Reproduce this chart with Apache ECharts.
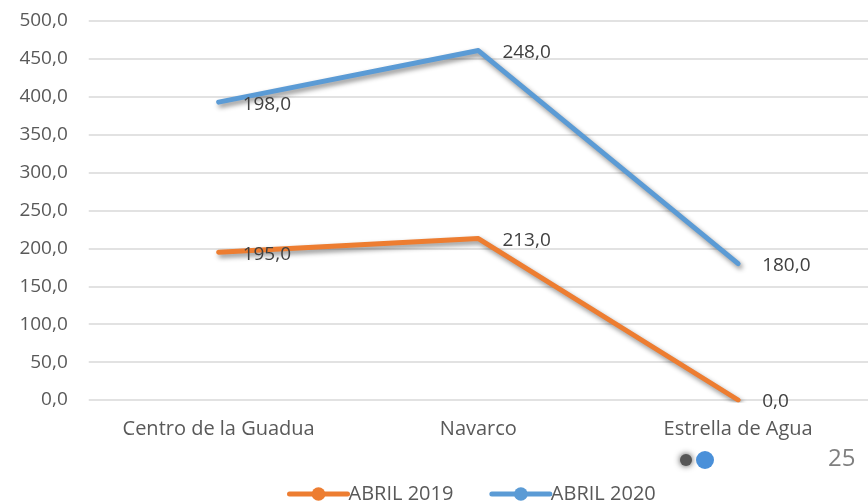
<!DOCTYPE html>
<html><head><meta charset="utf-8">
<script src="https://cdn.jsdelivr.net/npm/echarts@6/dist/echarts.min.js"></script>
<style>html,body{margin:0;padding:0;background:#fff}#c{width:868px;height:502px}</style>
</head><body><div id="c"></div>
<script>
const categories = ['Centro de la Guadua', 'Navarco', 'Estrella de Agua'];
const seriesNames = ['ABRIL 2019', 'ABRIL 2020'];
const abril2019 = [195, 213, 0];
const abril2020 = [198, 248, 180];
const yTicks = {min: 0, max: 500, interval: 50};

const font = '"Open Sans", sans-serif';
const fmt = v => Number(v).toFixed(1).replace('.', ',');
const shadow = {shadowColor: 'rgba(0,0,0,0.45)', shadowBlur: 5, shadowOffsetX: 2, shadowOffsetY: 3};
const chart = echarts.init(document.getElementById('c'));
function mk(name, data, color) {
  return {
    name, type: 'line', stack: 'total', data, color,
    symbol: 'circle', symbolSize: 0.01, showSymbol: true,
    lineStyle: Object.assign({width: 5, color, cap: 'round', join: 'round'}, shadow),
    itemStyle: {color},
    label: {show: true, position: 'right', distance: 24, offset: [0, 2], formatter: p => fmt(p.value),
      color: '#404040', fontSize: 19, fontFamily: font},
    emphasis: {disabled: true}, z: name === seriesNames[0] ? 3 : 2
  };
}
chart.setOption({
  animation: false,
  grid: {left: 88.75, right: -8.25, top: 21, bottom: 102, containLabel: false},
  xAxis: {type: 'category', data: categories, boundaryGap: true,
    axisLine: {show: false}, axisTick: {show: false},
    axisLabel: {color: '#595959', fontSize: 20, fontFamily: font, margin: 19}},
  yAxis: {type: 'value', min: yTicks.min, max: yTicks.max, interval: yTicks.interval,
    axisLabel: {formatter: fmt, color: '#595959', fontSize: 19, fontFamily: font, margin: 21},
    splitLine: {lineStyle: {color: '#D9D9D9', width: 1.5}}},
  legend: {bottom: -7, left: 282, itemWidth: 58, itemHeight: 17, itemGap: 36,
    lineStyle: {width: 5, shadowBlur: 0, shadowOffsetX: 0, shadowOffsetY: 0, cap: 'round'},
    textStyle: {color: '#595959', fontSize: 20, fontFamily: font, padding: [0,0,0,-4]},
    data: seriesNames},
  series: [mk(seriesNames[0], abril2019, '#ED7D31'), mk(seriesNames[1], abril2020, '#5B9BD5')],
  graphic: [
    {type: 'circle', shape: {cx: 686, cy: 460, r: 6}, style: {fill: '#555', shadowBlur: 6, shadowColor: '#444'}},
    {type: 'circle', shape: {cx: 705, cy: 460, r: 9}, style: {fill: '#4A90D9'}},
    {type: 'text', left: 828, top: 447, style: {text: '25', fill: '#7f7f7f', fontSize: 24, fontFamily: font}}
  ]
});
</script></body></html>
